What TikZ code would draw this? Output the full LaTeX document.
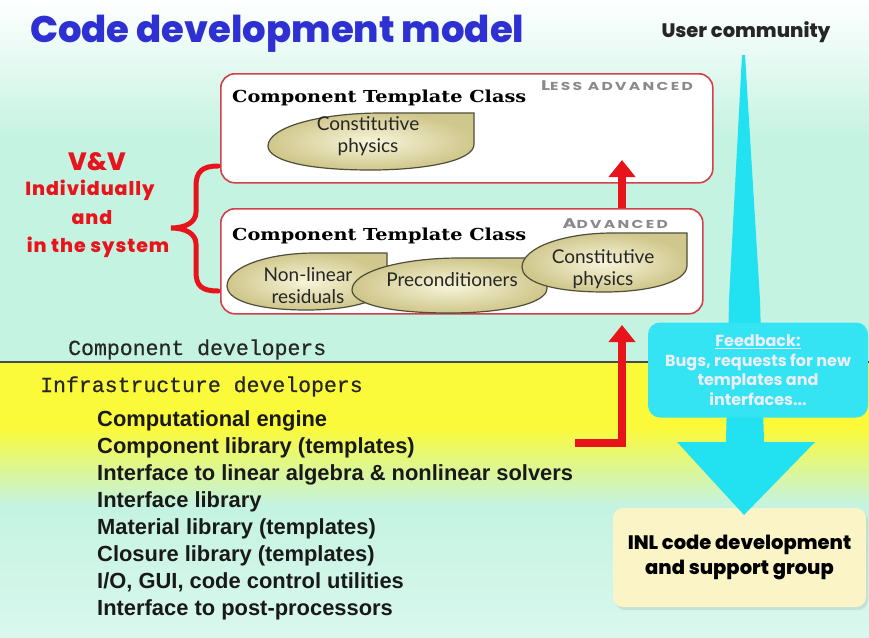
\documentclass[tikz,border=0pt]{standalone}
\usepackage{fontspec}
\usepackage{graphicx}
\setmainfont{Liberation Sans}
\newfontfamily\popfont{Poppins}
\newfontfamily\heavyfont{Poppins}[UprightFont=* ExtraBold]
\newfontfamily\monofont{Liberation Mono}[FakeBold=0.5]
\newfontfamily\classfont{DejaVu Serif}[FakeStretch=1.17]
\newfontfamily\blobfont{Lato}
\usetikzlibrary{arrows.meta,shadows,calc}

\definecolor{titleblue}{HTML}{2E30D2}
\definecolor{mint}{HTML}{C4F3E1}
\definecolor{mintlight}{HTML}{DAF8EE}
\definecolor{bandyellow}{HTML}{FAFA3A}
\definecolor{vvred}{HTML}{E8141C}
\definecolor{boxred}{HTML}{D4404A}
\definecolor{blobedge}{HTML}{4E4E3A}
\definecolor{blobin}{HTML}{F7F5DA}
\definecolor{blobout}{HTML}{D0C78C}
\definecolor{feedcyan}{HTML}{22E2F2}
\definecolor{feedtext}{HTML}{EEEEFA}
\definecolor{inlfill}{HTML}{FBF4C6}
\definecolor{capgray}{HTML}{8A8A8A}
\definecolor{divider}{HTML}{4A4A4A}

% tab-shaped ellipse: rounded on the left and bottom, square at the top right
\newcommand\tabblob[4]{%
  \begin{scope}[shift={(#1,#2)},xscale=#3,yscale=#4]
    \path[blob] (1,0) -- (1,0.55) .. controls (1,0.85) and (0.75,1) .. (0.5,1)
      .. controls (0.15,1) and (0,0.8) .. (0,0.58)
      .. controls (0,0.25) and (0.25,0) .. (0.55,0) -- cycle;
  \end{scope}}

% grey small-caps grade label, stretched wide
\newcommand\gradelabel[2]{\scalebox{1.35}[1]{\addfontfeature{LetterSpace=15}%
  {\fontsize{14}{14}\selectfont #1}{\fontsize{11.5}{11.5}\selectfont #2}}}

\begin{document}
\begin{tikzpicture}[x=1pt,y=-1pt,
  classbox/.style={draw=boxred, line width=1.6pt, fill=white, rounded corners=14pt,
    anchor=north west, inner sep=0pt},
  blob/.style={draw=blobedge, line width=1.2pt, inner color=blobin, outer color=blobout},
  blobtext/.style={font=\blobfont\fontsize{19}{22}\selectfont, align=center,
    text=black!85, inner sep=0pt},
  classtitle/.style={font=\classfont\bfseries\fontsize{16.5}{16.5}\selectfont,
    anchor=base west, inner sep=0pt},
  grade/.style={font=\popfont\bfseries, text=capgray, anchor=base east, inner sep=0pt},
  redarrow/.style={draw=vvred, line width=8pt, -{Triangle[width=26pt,length=17pt]}},
  vv/.style={font=\heavyfont\fontsize{19}{19}\selectfont\addfontfeature{LetterSpace=5},
    text=vvred, inner sep=0pt},
  listitem/.style={font=\bfseries\fontsize{21.9}{21.9}\selectfont, text=black!90,
    anchor=base west, inner sep=0pt},
  mono/.style={font=\monofont\fontsize{21.5}{21.5}\selectfont, text=black!85,
    anchor=base west, inner sep=0pt},
  feedbox/.style={fill=feedcyan!92!white, rounded corners=12pt, minimum width=220pt,
    minimum height=95pt, align=center, text=feedtext, inner sep=0pt,
    font=\popfont\bfseries\fontsize{16}{19.5}\selectfont},
  inlbox/.style={fill=inlfill, rounded corners=10pt, minimum width=253pt,
    minimum height=99pt, align=center, inner sep=0pt,
    drop shadow={opacity=0.18, shadow xshift=2pt, shadow yshift=-3pt},
    font=\heavyfont\fontsize{19.5}{25}\selectfont}
]
\useasboundingbox (0,0) rectangle (869,637);

% background bands
\shade[top color=white, bottom color=mint] (0,0) rectangle (869,140);
\fill[mint] (0,140) rectangle (869,362);
\fill[bandyellow] (0,362) rectangle (869,428);
\shade[top color=bandyellow, bottom color=mint] (0,428) rectangle (869,505);
\shade[top color=mint, bottom color=mintlight] (0,505) rectangle (869,637);
\draw[divider, line width=2pt] (0,362) -- (869,362);

% title and audience
\node[font=\heavyfont\fontsize{37}{37}\selectfont, text=titleblue,
  anchor=base west, inner sep=0pt] (title) at (30,42) {Code development model};
\node[font=\heavyfont\fontsize{19.5}{19.5}\selectfont, text=black!85,
  inner sep=0pt] (users) at (746,32) {User community};

% component template classes
\node[classbox, minimum width=492pt, minimum height=109pt] (less) at (220,73) {};
\node[classbox, minimum width=482pt, minimum height=105pt] (adv) at (220,208) {};

\node[classtitle] (lesstitle) at (232,102) {Component Template Class};
\node[grade] (lessgrade) at (693,90) {\gradelabel{L}{ESS\ ADVANCED}};
\tabblob{268}{113}{206}{57}
\node[blobtext] (constA) at (368,136) {Constitutive\\physics};

\node[classtitle] (advtitle) at (232,240) {Component Template Class};
\node[grade] (advgrade) at (668,228) {\gradelabel{A}{DVANCED}};
\tabblob{227}{253}{160}{57}
\node[blobtext] (resid) at (308,286) {Non-linear\\residuals};
\tabblob{352}{258}{195}{55}
\node[blobtext] (precond) at (452,280) {Preconditioners};
\tabblob{522}{233}{165}{59}
\node[blobtext] (constB) at (603,269) {Constitutive\\physics};

% promotion arrow between the classes
\coordinate (upTip) at (622,160);
\draw[redarrow] (adv.north -| upTip) -- (upTip);

% V&V brace and label
\draw[vvred, line width=5pt, line cap=round]
  (218,166) .. controls (202,166) and (196,172) .. (196,186) -- (196,212)
  .. controls (196,222) and (186,228) .. (171,228)
  .. controls (186,228) and (196,234) .. (196,244) -- (196,272)
  .. controls (196,286) and (202,291) .. (218,291);
\node[vv, font=\heavyfont\fontsize{25}{25}\selectfont] (vvhead) at (97,162) {V\&V};
\node[vv] (vv1) at (90,190) {Individually};
\node[vv] (vv2) at (92,218) {and};
\node[vv] (vv3) at (98,247) {in\ the\ system};

% developer groups
\node[mono] (compdev) at (68,355) {Component developers};
\node[mono] (infradev) at (40,392) {Infrastructure developers};
\node[listitem] (i1) at (97,426) {Computational engine};
\node[listitem] (i2) at (97,453) {Component library (templates)};
\node[listitem] (i3) at (97,480) {Interface to linear algebra \& nonlinear solvers};
\node[listitem] (i4) at (97,507) {Interface library};
\node[listitem] (i5) at (97,534) {Material library (templates)};
\node[listitem] (i6) at (97,561) {Closure library (templates)};
\node[listitem] (i7) at (97,588) {I/O, GUI, code control utilities};
\node[listitem] (i8) at (97,615) {Interface to post-processors};

% infrastructure feeds the component classes
\coordinate (lStart) at (575,443);
\coordinate (lTip) at (622,325);
\draw[redarrow] (lStart) -| (lTip);

% support group and user feedback
\node[inlbox] (inl) at (739.5,557.5) {INL code development\\and support group};
\fill[feedcyan] (742,55) -- (745,55) -- (760,300) -- (764,442) -- (815,442)
  -- (744,515) -- (677,442) -- (726,442) -- (729,300) -- cycle;
\node[feedbox] (feedback) at (758,370)
  {\underline{Feedback:}\\Bugs, requests for new\\templates and\\interfaces...};
\end{tikzpicture}
\end{document}
